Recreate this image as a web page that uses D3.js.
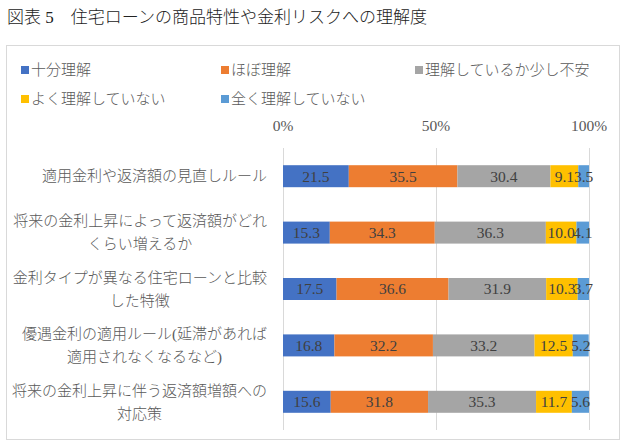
<!DOCTYPE html>
<html><head><meta charset="utf-8">
<script src="https://cdn.jsdelivr.net/npm/d3@7"></script>
<style>
body{margin:0;background:#fff;}
text{font-family:"Liberation Serif","Noto Sans CJK JP",serif;font-weight:300;}
</style></head>
<body><svg id="c" width="630" height="448"></svg>
<script>
const title = "図表 5　住宅ローンの商品特性や金利リスクへの理解度";
const categories = [
  ["適用金利や返済額の見直しルール"],
  ["将来の金利上昇によって返済額がどれ", "くらい増えるか"],
  ["金利タイプが異なる住宅ローンと比較", "した特徴"],
  ["優遇金利の適用ルール(延滞があれば", "適用されなくなるなど)"],
  ["将来の金利上昇に伴う返済額増額への", "対応策"]
];
const seriesNames = ["十分理解", "ほぼ理解", "理解しているか少し不安", "よく理解していない", "全く理解していない"];
const s1 = [21.5, 15.3, 17.5, 16.8, 15.6];
const s2 = [35.5, 34.3, 36.6, 32.2, 31.8];
const s3 = [30.4, 36.3, 31.9, 33.2, 35.3];
const s4 = [9.1, 10.0, 10.3, 12.5, 11.7];
const s5 = [3.5, 4.1, 3.7, 5.2, 5.6];
const ticks = [0, 50, 100];
const colors = ["#4472C4", "#ED7D31", "#A5A5A5", "#FFC000", "#5B9BD5"];

const svg = d3.select("#c");
const series = [s1, s2, s3, s4, s5];

// frame
svg.append("rect").attr("x", 6.5).attr("y", 45.5).attr("width", 613).attr("height", 394)
  .attr("fill", "#fff").attr("stroke", "#d9d9d9");

svg.append("text").attr("x", 7).attr("y", 23).attr("font-size", 17).attr("fill", "#222").text(title);

// legend
const legPos = [[21, 70], [221, 70], [415, 70], [21, 99], [221, 99]];
seriesNames.forEach((n, i) => {
  const [lx, ly] = legPos[i];
  svg.append("rect").attr("x", lx).attr("y", ly - 4).attr("width", 8).attr("height", 8).attr("fill", colors[i]);
  svg.append("text").attr("x", lx + 10).attr("y", ly).attr("dy", "0.35em")
    .attr("font-size", 15).attr("fill", "#595959").text(n);
});

const idx = d3.range(categories.length);
const x = d3.scaleLinear().domain([0, 100]).range([283, 589]);
const y = d3.scaleBand().domain(idx).range([148, 430]).paddingInner(0.61).paddingOuter(0.305);

// gridlines
svg.append("g").selectAll("line").data(ticks).join("line")
  .attr("x1", d => x(d) + 0.5).attr("x2", d => x(d) + 0.5)
  .attr("y1", 148).attr("y2", 430).attr("stroke", "#d9d9d9");

// top axis labels
svg.append("g").selectAll("text").data(ticks).join("text")
  .attr("x", d => x(d)).attr("y", 126).attr("dy", "0.35em").attr("text-anchor", "middle")
  .attr("font-size", 15.5).attr("fill", "#595959").text(d => d + "%");

// stacked bars
const rows = idx.map(i => {
  const o = {};
  series.forEach((s, k) => o["k" + k] = s[i]);
  return o;
});
const stack = d3.stack().keys(series.map((s, k) => "k" + k))(rows);
stack.forEach((layer, k) => {
  const g = svg.append("g");
  g.selectAll("rect").data(layer).join("rect")
    .attr("x", d => x(d[0])).attr("width", d => x(d[1]) - x(d[0]))
    .attr("y", (d, i) => y(i)).attr("height", y.bandwidth())
    .attr("fill", colors[k]);
});
stack.forEach((layer, k) => {
  svg.append("g").selectAll("text").data(layer).join("text")
    .attr("x", d => (x(d[0]) + x(d[1])) / 2)
    .attr("y", (d, i) => y(i) + y.bandwidth() / 2).attr("dy", "0.35em")
    .attr("text-anchor", "middle").attr("font-size", 15.5).attr("fill", "#404040")
    .text(d => (d[1] - d[0]).toFixed(1));
});

// category labels
categories.forEach((lines, i) => {
  const cy = y(i) + y.bandwidth() / 2;
  const g = svg.append("g");
  const ts = lines.map((l, j) => g.append("text")
    .attr("y", cy + (j - (lines.length - 1) / 2) * 23).attr("dy", "0.35em")
    .attr("font-size", 15).attr("fill", "#595959").attr("text-anchor", "middle").text(l));
  const maxW = d3.max(ts, t => t.node().getComputedTextLength());
  ts.forEach(t => t.attr("x", 267 - maxW / 2));
});
</script></body></html>
